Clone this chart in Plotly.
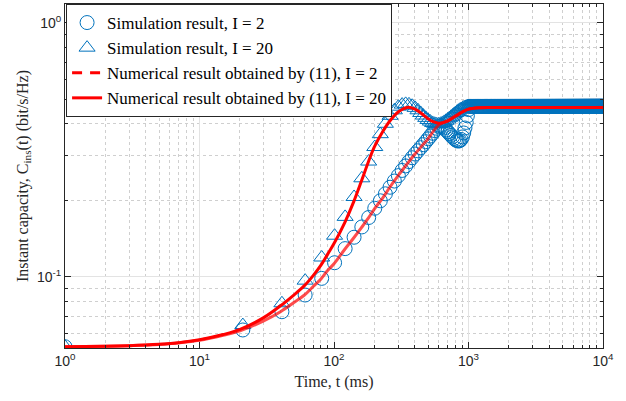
import plotly.graph_objects as go

# ---- data ----
# simulation time instants: every 20 ms from 1 ms
sim_t = list(range(1, 10000, 20))

# simulated values for t = 1, 21, ..., 1001 ms
sim_rise_I2 = [0.0530, 0.0617, 0.0728, 0.0847, 0.0985, 0.1135, 0.129, 0.143, 0.157, 0.171,
               0.186, 0.199, 0.212, 0.225, 0.238, 0.250, 0.262, 0.273, 0.284, 0.294,
               0.304, 0.313, 0.322, 0.331, 0.340, 0.349, 0.358, 0.367, 0.376, 0.384,
               0.390, 0.392, 0.390, 0.385, 0.378, 0.372, 0.366, 0.360, 0.355, 0.350,
               0.346, 0.343, 0.342, 0.343, 0.347, 0.355, 0.368, 0.385, 0.405, 0.430,
               0.455]
sim_rise_I20 = [0.0530, 0.0645, 0.0786, 0.0965, 0.119, 0.145, 0.172, 0.206, 0.244, 0.284,
                0.324, 0.364, 0.400, 0.430, 0.452, 0.467, 0.476, 0.479, 0.477, 0.471,
                0.462, 0.452, 0.441, 0.431, 0.422, 0.414, 0.408, 0.403, 0.400, 0.398,
                0.398, 0.400, 0.403, 0.407, 0.411, 0.416, 0.421, 0.426, 0.431, 0.436,
                0.441, 0.446, 0.450, 0.454, 0.457, 0.460, 0.463, 0.465, 0.467, 0.468,
                0.469]
# steady-state level of the simulation after ~1 s
sim_plateau_I2 = 0.468
sim_plateau_I20 = 0.470

sim_I2 = sim_rise_I2 + [sim_plateau_I2] * (len(sim_t) - len(sim_rise_I2))
sim_I20 = sim_rise_I20 + [sim_plateau_I20] * (len(sim_t) - len(sim_rise_I20))

# numerical results (equation 11)
num_t = [1, 2, 3, 5, 7, 10, 15, 20, 30, 40, 50, 60, 70, 80, 90, 100, 120, 140, 160, 180,
         200, 230, 260, 300, 350, 400, 450, 500, 550, 600, 700, 800, 900, 1000, 1200, 1500,
         2000, 5000, 10000]
num_I20 = [0.0530, 0.0532, 0.0535, 0.0542, 0.0550, 0.0565, 0.0592, 0.0620, 0.0690, 0.0768,
           0.0845, 0.0920, 0.101, 0.111, 0.123, 0.135, 0.163, 0.197, 0.238, 0.283,
           0.325, 0.372, 0.410, 0.445, 0.464, 0.457, 0.438, 0.419, 0.407, 0.402,
           0.410, 0.428, 0.445, 0.457, 0.463, 0.464, 0.464, 0.464, 0.464]
num_I2 = [0.0530, 0.0532, 0.0535, 0.0541, 0.0549, 0.0562, 0.0588, 0.0612, 0.0670, 0.0728,
          0.0790, 0.0845, 0.0915, 0.0980, 0.106, 0.1125, 0.128, 0.142, 0.156, 0.170,
          0.185, 0.204, 0.225, 0.250, 0.278, 0.304, 0.327, 0.349, 0.375, 0.395,
          0.412, 0.430, 0.446, 0.457, 0.463, 0.464, 0.464, 0.464, 0.464]

x_tickvals = [1, 10, 100, 1000, 10000]
x_ticktext = ["10<sup>0</sup>", "10<sup>1</sup>", "10<sup>2</sup>", "10<sup>3</sup>", "10<sup>4</sup>"]
y_tickvals = [0.1, 1]
y_ticktext = ["10<sup>-1</sup>", "10<sup>0</sup>"]
x_minor = [m * 10 ** e for e in range(0, 4) for m in range(2, 10)]
y_minor = [m * 10.0 ** e for e in (-2, -1) for m in range(2, 10)]

names = ["Simulation result, I = 2", "Simulation result, I = 20",
         "Numerical result obtained by (11), I = 2", "Numerical result obtained by (11), I = 20"]

BLUE = "#0072BD"
RED = "#FF0000"

fig = go.Figure()
fig.add_trace(go.Scatter(x=sim_t, y=sim_I2, mode="markers", name=names[0],
                         marker=dict(symbol="circle-open", size=14, color=BLUE,
                                     line=dict(width=1, color=BLUE))))
fig.add_trace(go.Scatter(x=sim_t, y=sim_I20, mode="markers", name=names[1],
                         marker=dict(symbol="triangle-up-open", size=14, color=BLUE,
                                     line=dict(width=1, color=BLUE))))
# I = 2 numerical (dense dashed line renders almost solid; legend shows the dashed style)
fig.add_trace(go.Scatter(x=num_t, y=num_I2, mode="lines", showlegend=False,
                         line=dict(color="rgba(255,0,0,0.7)", width=3, shape="spline")))
fig.add_trace(go.Scatter(x=[None], y=[None], mode="lines", name=names[2],
                         line=dict(color=RED, width=3, dash="10px,8px")))
fig.add_trace(go.Scatter(x=num_t, y=num_I20, mode="lines", name=names[3],
                         line=dict(color=RED, width=3, shape="spline")))


def axis_style(minor_vals):
    return dict(
        showline=True, linecolor="#262626", linewidth=1, mirror="allticks",
        ticks="inside", ticklen=6, tickcolor="#262626",
        showgrid=True, gridcolor="#e3e3e3", gridwidth=1,
        tickfont=dict(family="Liberation Sans, Arial", size=14, color="#262626"),
        zeroline=False, automargin=False,
        minor=dict(tickmode="array", tickvals=minor_vals, ticks="inside", ticklen=3,
                   tickcolor="#262626", showgrid=True, gridcolor="#cfcfcf",
                   griddash="dot", gridwidth=1),
    )


fig.update_xaxes(type="log", range=[0, 4], tickvals=x_tickvals, ticktext=x_ticktext,
                 title=dict(text="Time, t (ms)", standoff=8,
                            font=dict(family="Liberation Serif, Times New Roman", size=16, color="#262626")),
                 **axis_style(x_minor))
fig.update_yaxes(type="log", range=[-1.2807, 0.0736], tickvals=y_tickvals, ticktext=y_ticktext,
                 title=dict(text="Instant capacity, C<sub>ins</sub>(t) (bit/s/Hz)", standoff=4,
                            font=dict(family="Liberation Serif, Times New Roman", size=16, color="#262626")),
                 **axis_style(y_minor))

fig.update_layout(
    width=626, height=401,
    margin=dict(l=65, r=23, t=4, b=53),
    plot_bgcolor="white", paper_bgcolor="white",
    showlegend=True,
    legend=dict(x=0.002, y=1, xanchor="left", yanchor="top",
                bgcolor="white", bordercolor="#262626", borderwidth=1,
                font=dict(family="Liberation Serif, Times New Roman", size=17, color="black"),
                tracegroupgap=0, itemwidth=30),
)

fig.write_html("out.html", config={"displayModeBar": False},
               post_script="document.body.style.margin='0';")
